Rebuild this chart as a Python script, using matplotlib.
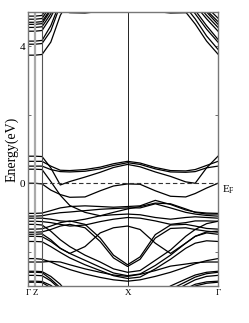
import matplotlib
matplotlib.use("Agg")
import matplotlib.pyplot as plt

plt.rcParams['font.family'] = ['Liberation Serif', 'DejaVu Serif']
plt.rcParams['mathtext.fontset'] = 'stix'

# k-path nodes (fraction of path) and high-symmetry labels
k_nodes = [0.0, 0.037, 0.074, 0.12, 0.17, 0.22, 0.30, 0.38, 0.45, 0.524,
           0.59, 0.67, 0.75, 0.83, 0.88, 0.94, 1.0]
k_ticks = [0.0, 0.037, 0.524, 1.0]
k_labels = ['Γ', 'Z', 'X', 'Γ']
k_aux = 0.074

# high conduction bands
H1 = [3.74, 3.74, 3.76, 4.12, 4.90, 5.4, 5.6, 5.6, 5.6, 5.6, 5.6, 5.6, 5.6, 5.00, 4.65, 4.15, 3.77]
H2 = [4.06, 4.06, 4.08, 4.45, 5.20, 5.6, 5.6, 5.6, 5.6, 5.6, 5.6, 5.6, 5.6, 5.15, 4.80, 4.30, 3.91]
H3 = [4.15, 4.15, 4.17, 4.60, 5.30, 5.6, 5.6, 5.6, 5.6, 5.6, 5.6, 5.6, 5.6, 5.30, 4.95, 4.50, 4.12]
H4 = [4.44, 4.44, 4.46, 4.85, 5.40, 5.6, 5.6, 5.6, 5.6, 5.6, 5.6, 5.6, 5.6, 5.40, 5.05, 4.60, 4.20]
H5 = [4.55, 4.55, 4.57, 4.95, 5.50, 5.6, 5.6, 5.6, 5.6, 5.6, 5.6, 5.6, 5.6, 5.50, 5.20, 4.80, 4.44]
H6 = [4.64, 4.64, 4.66, 5.05, 5.50, 5.6, 5.6, 5.6, 5.6, 5.6, 5.6, 5.6, 5.6, 5.50, 5.30, 4.90, 4.55]
H7 = [4.70, 4.70, 4.72, 5.10, 5.50, 5.6, 5.6, 5.6, 5.6, 5.6, 5.6, 5.6, 5.6, 5.50, 5.40, 5.00, 4.64]
H8 = [4.79, 4.79, 4.81, 5.20, 5.50, 5.6, 5.6, 5.6, 5.6, 5.6, 5.6, 5.6, 5.6, 5.50, 5.45, 5.05, 4.72]
H9 = [4.88, 4.88, 4.90, 5.30, 5.50, 5.6, 5.6, 5.6, 5.6, 5.6, 5.6, 5.6, 5.6, 5.50, 5.50, 5.15, 4.82]
W1 = [5.30, 5.30, 5.30, 5.20, 5.05, 4.98, 4.97, 5.02, 5.04, 5.05, 5.04, 5.02, 4.97, 4.98, 5.10, 5.30, 5.30]

# bands near the Fermi level
D1 = [0.79, 0.79, 0.78, 0.45, -0.05, 0.05, 0.18, 0.32, 0.46, 0.55, 0.48, 0.33, 0.20, 0.04, 0.00, 0.45, 0.79]
D2 = [0.50, 0.50, 0.50, 0.40, 0.34, 0.33, 0.35, 0.42, 0.52, 0.60, 0.55, 0.42, 0.33, 0.32, 0.34, 0.45, 0.50]
D3 = [0.64, 0.64, 0.64, 0.50, 0.38, 0.37, 0.40, 0.47, 0.57, 0.64, 0.59, 0.46, 0.37, 0.36, 0.40, 0.52, 0.64]
S1 = [0.41, 0.41, 0.40, 0.05, -0.35, -0.65, -0.85, -0.95, -0.85, -0.75, -0.68, -0.58, -0.60, -0.75, -0.85, -0.90, -0.90]
F1 = [0.00, 0.00, -0.02, -0.20, -0.33, -0.41, -0.40, -0.22, -0.08, -0.02, -0.03, -0.22, -0.38, -0.40, -0.30, -0.14, 0.00]

# middle valence bands
M1 = [-0.88, -0.88, -0.87, -0.80, -0.72, -0.68, -0.66, -0.68, -0.70, -0.68, -0.66, -0.50, -0.62, -0.78, -0.84, -0.87, -0.88]
M2 = [-0.96, -0.96, -0.95, -0.90, -0.86, -0.84, -0.80, -0.76, -0.74, -0.72, -0.72, -0.60, -0.72, -0.85, -0.90, -0.94, -0.96]
M3 = [-1.02, -1.02, -1.02, -1.05, -1.10, -1.12, -1.05, -0.95, -0.92, -0.90, -0.92, -1.00, -1.05, -1.00, -0.98, -1.00, -1.02]
M4 = [-1.11, -1.11, -1.12, -1.15, -1.20, -1.25, -1.22, -1.12, -1.05, -1.00, -1.02, -1.10, -1.20, -1.15, -1.10, -1.10, -1.11]
U1 = [-1.34, -1.34, -1.33, -1.25, -1.15, -1.10, -1.20, -1.60, -2.10, -2.38, -2.15, -1.50, -1.22, -1.20, -1.25, -1.32, -1.34]
U2 = [-1.43, -1.43, -1.42, -1.35, -1.25, -1.20, -1.30, -1.70, -2.18, -2.43, -2.22, -1.60, -1.32, -1.30, -1.35, -1.40, -1.43]
V1 = [-1.49, -1.49, -1.48, -1.65, -1.90, -2.05, -1.85, -1.45, -1.30, -1.25, -1.35, -1.75, -2.05, -1.75, -1.55, -1.45, -1.49]
B1 = [-1.20, -1.20, -1.22, -1.40, -1.65, -1.85, -2.10, -2.30, -2.50, -2.60, -2.55, -2.25, -1.95, -1.55, -1.35, -1.18, -1.11]
B2 = [-1.55, -1.55, -1.56, -1.70, -1.90, -2.05, -2.25, -2.45, -2.62, -2.70, -2.65, -2.40, -2.10, -1.75, -1.55, -1.42, -1.40]
B3 = [-1.70, -1.70, -1.71, -1.85, -2.02, -2.18, -2.38, -2.55, -2.70, -2.78, -2.74, -2.50, -2.22, -1.90, -1.75, -1.68, -1.70]

# lower valence bands
L1 = [-2.20, -2.20, -2.22, -2.30, -2.42, -2.52, -2.65, -2.75, -2.82, -2.86, -2.82, -2.72, -2.60, -2.45, -2.35, -2.26, -2.20]
L2 = [-2.30, -2.30, -2.30, -2.28, -2.30, -2.38, -2.50, -2.60, -2.68, -2.72, -2.66, -2.55, -2.42, -2.36, -2.32, -2.30, -2.30]
Lo1 = [-2.57, -2.57, -2.58, -2.72, -2.95, -3.30, -3.6, -3.6, -3.6, -3.6, -3.6, -3.30, -3.00, -2.80, -2.68, -2.60, -2.57]
Lo2 = [-2.60, -2.60, -2.61, -2.80, -3.05, -3.40, -3.6, -3.6, -3.6, -3.6, -3.6, -3.45, -3.10, -2.88, -2.74, -2.64, -2.60]
Lo3 = [-2.69, -2.69, -2.70, -2.85, -3.10, -3.45, -3.6, -3.6, -3.6, -3.6, -3.6, -3.55, -3.20, -2.96, -2.82, -2.72, -2.69]
Lo4 = [-2.86, -2.86, -2.87, -2.98, -3.20, -3.50, -3.6, -3.6, -3.6, -3.6, -3.6, -3.6, -3.35, -3.08, -2.95, -2.88, -2.86]
Lo5 = [-2.89, -2.89, -2.90, -3.05, -3.30, -3.6, -3.6, -3.6, -3.6, -3.6, -3.6, -3.6, -3.45, -3.15, -3.00, -2.92, -2.89]

bands = [H1, H2, H3, H4, H5, H6, H7, H8, H9, W1,
         D1, D2, D3, S1, F1,
         M1, M2, M3, M4, U1, U2, V1, B1, B2, B3,
         L1, L2, Lo1, Lo2, Lo3, Lo4, Lo5]

y_ticks = [-2, 0, 2, 4]
y_tick_labels = ['', '0', '', '4']

fig = plt.figure(figsize=(2.49, 3.23), dpi=100)
ax = fig.add_axes([0.1124, 0.1146, 0.7631, 0.8482])

for b in bands:
    ax.plot(k_nodes, b, color='black', lw=0.9, solid_joinstyle='round')

ax.axhline(0, color='#333333', lw=0.8, ls=(0, (4, 2.5)))
ax.axvline(k_ticks[1], color='#aaaaaa', lw=1.6)
ax.axvline(k_aux, color='#555555', lw=0.8)
ax.axvline(k_ticks[2], color='black', lw=0.6)

ax.set_xlim(0, 1)
ax.set_ylim(-3, 5)
ax.set_xticks(k_ticks)
ax.set_xticklabels(k_labels, fontsize=6.5)
ax.set_yticks(y_ticks)
ax.set_yticklabels(y_tick_labels, fontsize=8)
ax.tick_params(axis='x', length=0, pad=2)
ax.tick_params(axis='y', direction='in', length=2.5, width=0.6, right=True, pad=2, colors='#555555', labelcolor='black')
for s in ax.spines.values():
    s.set_color('#777777')
    s.set_linewidth(1.0)
ax.set_ylabel('Energy(eV)', fontsize=10, labelpad=1)
ax.text(1.02, 0, r'E$_\mathregular{F}$', transform=ax.get_yaxis_transform(), fontsize=8,
        va='top', ha='left')

fig.savefig('out.png', dpi=100)
